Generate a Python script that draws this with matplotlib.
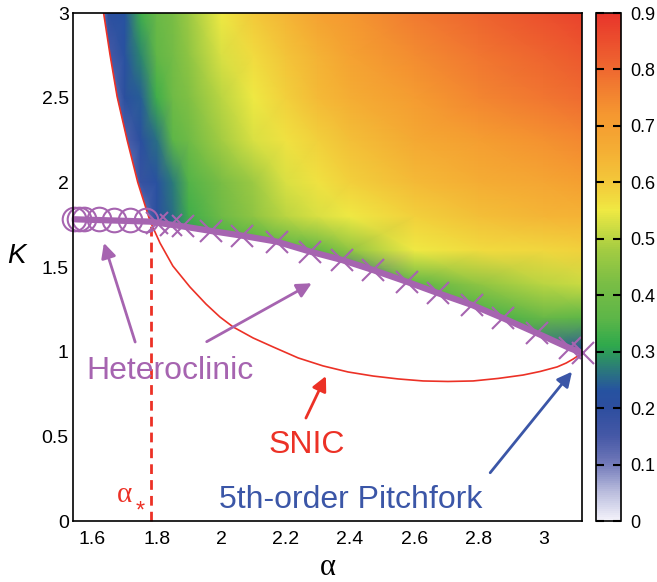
import numpy as np
import matplotlib
matplotlib.use("Agg")
import matplotlib.pyplot as plt
from matplotlib.colors import LinearSegmentedColormap
from matplotlib.patches import Polygon

plt.rcParams['font.family'] = ['Liberation Sans', 'DejaVu Sans']

# -------------------------
# Data
# -------------------------
# SNIC curve, from the top edge down to its right end
snic_alpha = [1.635, 1.655, 1.677, 1.708, 1.741, 1.779, 1.810, 1.850, 1.903, 1.953,
              1.996, 2.037, 2.099, 2.161, 2.239, 2.316, 2.394, 2.472, 2.549, 2.627,
              2.704, 2.782, 2.860, 2.937, 2.990, 3.043, 3.071, 3.093, 3.121]
snic_K = [3.0, 2.753, 2.506, 2.25, 2.0, 1.772, 1.642, 1.506, 1.382, 1.281,
          1.205, 1.146, 1.081, 1.028, 0.963, 0.916, 0.880, 0.856, 0.839, 0.827,
          0.824, 0.827, 0.842, 0.862, 0.883, 0.910, 0.933, 0.957, 0.992]

# heteroclinic line (thick purple)
het_alpha = [1.54, 1.779, 1.88, 1.968, 2.065, 2.172, 2.276, 2.374, 2.47, 2.576,
             2.674, 2.778, 2.876, 2.98, 3.083, 3.124]
het_K = [1.782, 1.768, 1.74, 1.713, 1.685, 1.65, 1.591, 1.542, 1.483, 1.413,
         1.345, 1.276, 1.197, 1.109, 1.02, 0.99]

# markers along it
circle_alpha = [1.544, 1.56, 1.575, 1.62, 1.667, 1.718, 1.766]
circle_K = [1.784, 1.784, 1.784, 1.782, 1.78, 1.778, 1.775]
cross_alpha = [1.80, 1.845, 1.88, 1.968, 2.065, 2.172, 2.276, 2.374, 2.47, 2.576,
               2.674, 2.778, 2.876, 2.98, 3.083, 3.124]
cross_K = [1.76, 1.75, 1.74, 1.713, 1.685, 1.65, 1.591, 1.542, 1.483, 1.413,
           1.345, 1.276, 1.197, 1.109, 1.02, 0.99]

alpha_star = 1.781
K_star = 1.772

# colour field sampled on a coarse grid (values outside the region are hidden)
grid_alpha = [1.60, 1.65, 1.70, 1.75, 1.80, 1.85, 1.90, 2.0, 2.1, 2.2, 2.3, 2.4, 2.6, 2.8, 3.0, 3.15]
grid_K = [0.9, 1.0, 1.2, 1.4, 1.6, 1.8, 2.0, 2.25, 2.5, 2.75, 3.0]
grid_val = [
    [0.2, 0.2, 0.2, 0.2, 0.2, 0.2, 0.2, 0.2, 0.2, 0.2, 0.2, 0.2, 0.2, 0.2, 0.2, 0.2],
    [0.3, 0.3, 0.3, 0.3, 0.3, 0.3, 0.3, 0.3, 0.3, 0.3, 0.3, 0.3, 0.3, 0.3, 0.26, 0.2],
    [0.3, 0.3, 0.3, 0.3, 0.3, 0.3, 0.3, 0.3, 0.3, 0.3, 0.3, 0.3, 0.3, 0.33, 0.38, 0.36],
    [0.3, 0.3, 0.3, 0.3, 0.3, 0.3, 0.3, 0.3, 0.3, 0.3, 0.3, 0.2, 0.36, 0.45, 0.50, 0.52],
    [0.2, 0.2, 0.2, 0.2, 0.22, 0.28, 0.28, 0.32, 0.33, 0.35, 0.37, 0.45, 0.55, 0.57, 0.58, 0.59],
    [0.0, 0.0, 0.0, 0.10, 0.21, 0.26, 0.33, 0.40, 0.45, 0.50, 0.53, 0.55, 0.59, 0.62, 0.64, 0.65],
    [0.0, 0.0, 0.08, 0.18, 0.22, 0.27, 0.35, 0.42, 0.47, 0.53, 0.56, 0.59, 0.63, 0.66, 0.68, 0.70],
    [0.0, 0.10, 0.14, 0.21, 0.26, 0.36, 0.40, 0.48, 0.53, 0.56, 0.59, 0.62, 0.67, 0.70, 0.73, 0.75],
    [0.0, 0.10, 0.21, 0.24, 0.33, 0.40, 0.43, 0.50, 0.55, 0.59, 0.63, 0.66, 0.71, 0.75, 0.78, 0.80],
    [0.10, 0.15, 0.22, 0.28, 0.37, 0.41, 0.45, 0.53, 0.57, 0.61, 0.65, 0.69, 0.74, 0.78, 0.81, 0.84],
    [0.05, 0.21, 0.23, 0.33, 0.39, 0.42, 0.47, 0.55, 0.60, 0.64, 0.69, 0.72, 0.77, 0.81, 0.85, 0.88],
]

cmap_pos = [0.0, 0.05, 0.1, 0.15, 0.2, 0.23, 0.27, 0.31, 0.36, 0.42, 0.48, 0.55, 0.6, 0.66, 0.72, 0.8, 0.9]
cmap_hex = ['#f3f2fa', '#b9bcdd', '#7179b9', '#4558a6', '#2d4e9f', '#2652a0', '#2b7c78', '#2fa94c',
            '#5db648', '#79bd45', '#a3cc42', '#efe943', '#f3c93a', '#f4ad34', '#f59830', '#ef6a30',
            '#e8352b']

purple = '#a664b0'
red = '#ec3126'
blue = '#3b56a7'

cmap = LinearSegmentedColormap.from_list('field', [(p / 0.9, c) for p, c in zip(cmap_pos, cmap_hex)])

# -------------------------
# Figure
# -------------------------
fig = plt.figure(figsize=(6.57, 5.82), dpi=100)
ax = fig.add_axes([73 / 657, 61 / 582, 509 / 657, 508 / 582])
cax = fig.add_axes([595.5 / 657, 61 / 582, 25 / 657, 508 / 582])

xmin, xmax = 1.54, 3.12
mesh = ax.pcolormesh(grid_alpha, grid_K, np.array(grid_val), shading='gouraud',
                     cmap=cmap, vmin=0, vmax=0.9, zorder=1)

# region above SNIC (left) and heteroclinic line (bottom)
i_j = snic_alpha.index(1.779)
poly = list(zip(snic_alpha[:i_j + 1], snic_K[:i_j + 1])) + list(zip(het_alpha[1:], het_K[1:]))
poly += [(xmax + 0.2, het_K[-1]), (xmax + 0.2, 3.2), (snic_alpha[0] - 0.01, 3.2)]
clip = Polygon(poly, closed=True, transform=ax.transData, facecolor='none', edgecolor='none')
mesh.set_clip_path(clip)

ax.plot(snic_alpha, snic_K, color=red, lw=1.2, zorder=3)
ax.plot([alpha_star, alpha_star], [0, K_star], color=red, lw=2, dashes=(3.5, 2.2), zorder=3, clip_on=False)
ax.plot(het_alpha, het_K, color=purple, lw=4.5, solid_capstyle='butt', zorder=4)
ax.plot(circle_alpha, circle_K, 'o', ms=17, mfc='none', mec=purple, mew=1.5, zorder=5, clip_on=False)
ax.plot(cross_alpha, cross_K, 'x', ms=16, mec=purple, mew=1.5, zorder=5, clip_on=False)

ax.set_xlim(xmin, xmax)
ax.set_ylim(0, 3)
ax.set_xticks([1.6, 1.8, 2.0, 2.2, 2.4, 2.6, 2.8, 3.0])
ax.set_xticklabels(['1.6', '1.8', '2', '2.2', '2.4', '2.6', '2.8', '3'])
ax.set_yticks([0, 0.5, 1, 1.5, 2, 2.5, 3])
ax.set_yticklabels(['0', '0.5', '1', '1.5', '2', '2.5', '3'])
ax.tick_params(axis='x', length=0, labelsize=14, pad=7.5)
ax.tick_params(axis='y', length=0, labelsize=14, pad=3)
for s in ax.spines.values():
    s.set_linewidth(1.2)
    s.set_zorder(6)

ax.set_xlabel('α', fontsize=22, family='Liberation Serif', labelpad=3)
ax.set_ylabel('K', fontsize=20, style='italic', rotation=0, va='center', ha='center')
ax.yaxis.set_label_coords(-0.112, 0.522)

# annotations
ax.text(1.841, 0.839, 'Heteroclinic', color=purple, fontsize=23, ha='center', va='baseline')
ax.text(2.265, 0.403, 'SNIC', color=red, fontsize=23, ha='center', va='baseline')
ax.text(2.403, 0.075, '5th-order Pitchfork', color=blue, fontsize=23, ha='center', va='baseline')
ax.text(1.700, 0.112, 'α', color=red, fontsize=21, family='Liberation Serif', ha='center', va='baseline')
ax.text(1.748, 0.02, '*', color=red, fontsize=17, ha='center', va='baseline')

arrows = [((1.733, 1.057), (1.636, 1.642), purple),
          ((1.955, 1.059), (2.281, 1.404), purple),
          ((2.263, 0.608), (2.325, 0.856), red),
          ((2.835, 0.285), (3.089, 0.882), blue)]
for tail, head, c in arrows:
    ax.annotate('', xy=head, xytext=tail,
                arrowprops=dict(arrowstyle='-|>', color=c, lw=2, mutation_scale=22,
                                shrinkA=0, shrinkB=0), zorder=6)

cb = fig.colorbar(mesh, cax=cax)
cb.set_ticks([0, 0.1, 0.2, 0.3, 0.4, 0.5, 0.6, 0.7, 0.8, 0.9])
cb.set_ticklabels(['0', '0.1', '0.2', '0.3', '0.4', '0.5', '0.6', '0.7', '0.8', '0.9'])
cax.tick_params(direction='in', left=True, right=True, length=5.5, width=1.5, labelsize=13, pad=7)
cb.outline.set_linewidth(1.2)

fig.savefig('out.png', dpi=100)
